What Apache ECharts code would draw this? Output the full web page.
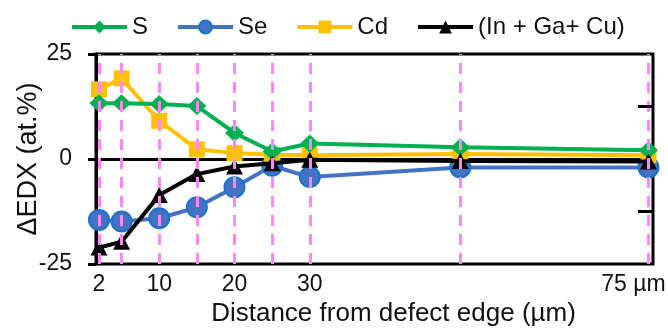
<!DOCTYPE html>
<html>
<head>
<meta charset="utf-8">
<script src="https://cdn.jsdelivr.net/npm/echarts@6/dist/echarts.min.js"></script>
<style>
  html, body { margin: 0; padding: 0; background: #fff; }
  #chart { width: 668px; height: 329px; }
</style>
</head>
<body>
<div id="chart"></div>
<script>
// distances (µm) where EDX was measured
var distances = [2, 5, 10, 15, 20, 25, 30, 50, 75];
var sVals   = [13.3, 13.3, 13.1, 12.6, 6.2, 1.8, 3.7, 2.8, 2.1];
var seVals  = [-14.5, -14.9, -14.1, -11.5, -6.7, -1.6, -4.3, -2.0, -2.0];
var cdVals  = [16.6, 19.2, 9.1, 2.3, 1.4, 1.0, 0.9, 1.2, 0.9];
var igcVals = [-21.1, -19.7, -8.6, -3.6, -1.8, -1.0, -0.2, -0.5, -0.6];
var xTickLabels = [2, 10, 20, 30, 75];
var rightTicks = [-12.5, 12.5];

var xMin = 1.6, xMax = 75.6;
var font = "'Liberation Sans', Arial, sans-serif";

function pairs(vals) {
  return distances.map(function (d, i) { return [d, vals[i]]; });
}

var chart = echarts.init(document.getElementById('chart'));

var option = {
  animation: false,
  backgroundColor: '#fff',
  textStyle: { fontFamily: font, color: '#111' },
  legend: {
    left: 65,
    top: 8,
    itemWidth: 55,
    itemHeight: 16,
    itemGap: 28,
    lineStyle: { width: 4 },
    textStyle: { fontFamily: font, fontSize: 24, color: '#111', lineHeight: 28 },
    data: ['S', 'Se', 'Cd', '(In + Ga+ Cu)']
  },
  grid: {
    left: 96, right: 15, top: 54, bottom: 65,
    outerBoundsMode: 'none',
    show: true, borderColor: '#000', borderWidth: 3
  },
  xAxis: {
    type: 'value',
    min: xMin,
    max: xMax,
    splitLine: { show: false },
    axisTick: { show: false },
    axisLine: { lineStyle: { color: '#000', width: 3 } },
    axisLabel: {
      customValues: xTickLabels,
      margin: 9,
      fontFamily: font,
      fontSize: 23,
      color: '#111',
      formatter: function (v) { return v === 75 ? '{r|75 µm}' : String(v); },
      rich: { r: { fontFamily: font, fontSize: 23, color: '#111', padding: [0, 30, 0, 0] } }
    },
    name: 'Distance from defect edge (µm)',
    nameLocation: 'middle',
    nameGap: 36,
    nameTextStyle: { fontFamily: font, fontSize: 26, color: '#111', padding: [0, 0, 0, 38] }
  },
  yAxis: {
    type: 'value',
    min: -25,
    max: 25,
    interval: 25,
    splitLine: { show: false },
    axisLine: { show: true, lineStyle: { color: '#000', width: 3 } },
    axisTick: { show: true, length: 8, lineStyle: { color: '#000', width: 3 } },
    axisLabel: { margin: 24, fontFamily: font, fontSize: 23, color: '#111' },
    name: 'ΔEDX (at.%)',
    nameLocation: 'middle',
    nameMoveOverlap: false,
    nameGap: 54,
    nameTextStyle: { fontFamily: font, fontSize: 27, color: '#111' }
  },
  series: [
    {
      name: 'S',
      type: 'line',
      z: 4,
      data: pairs(sVals),
      symbol: 'diamond',
      symbolSize: [19, 18],
      lineStyle: { color: '#00B050', width: 4 },
      itemStyle: { color: '#00B050' }
    },
    {
      name: 'Se',
      type: 'line',
      z: 2,
      data: pairs(seVals),
      symbol: 'circle',
      symbolSize: 20,
      lineStyle: { color: '#4472C4', width: 4 },
      itemStyle: { color: '#4472C4', borderColor: '#1A75C8', borderWidth: 2 },
      markLine: {
        silent: true,
        z: 10,
        symbol: 'none',
        label: { show: false },
        lineStyle: { color: '#FF88FF', type: [11, 8], width: 3 },
        data: distances.map(function (d) { return { xAxis: d }; })
      }
    },
    {
      name: 'Cd',
      type: 'line',
      z: 3,
      data: pairs(cdVals),
      symbol: 'rect',
      symbolSize: 16,
      lineStyle: { color: '#FFC000', width: 4 },
      itemStyle: { color: '#FFC000' }
    },
    {
      name: '(In + Ga+ Cu)',
      type: 'line',
      z: 5,
      data: pairs(igcVals),
      symbol: 'triangle',
      symbolSize: [17, 16],
      lineStyle: { color: '#000000', width: 4 },
      itemStyle: { color: '#000000' },
      // short inward ticks on the right frame edge
      markLine: {
        silent: true,
        z: 11,
        symbol: 'none',
        label: { show: false },
        lineStyle: { color: '#000', type: 'solid', width: 3 },
        data: rightTicks.map(function (v) {
          return [{ coord: [xMax - 2, v] }, { coord: [xMax, v] }];
        })
      }
    }
  ]
};

chart.setOption(option);
</script>
</body>
</html>
